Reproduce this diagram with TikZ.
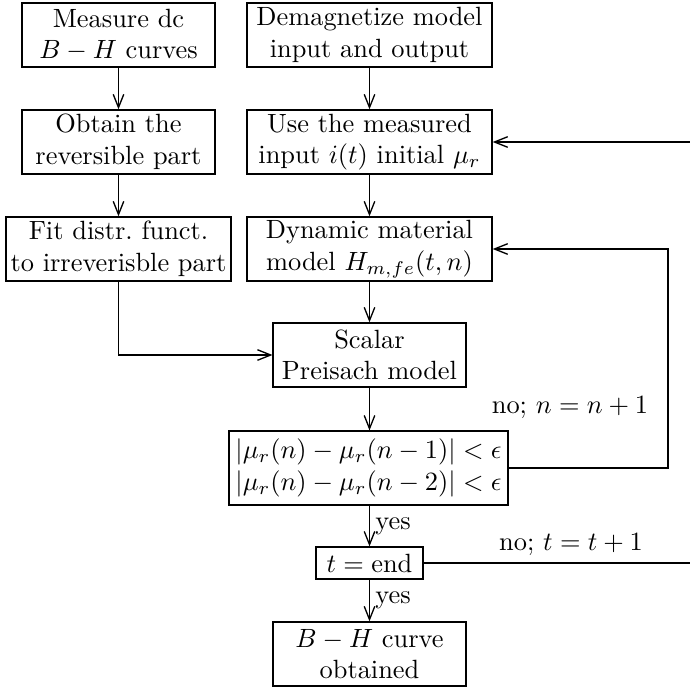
\documentclass[tikz,border=0pt]{standalone}
\usetikzlibrary{arrows.meta}
\begin{document}
\begin{tikzpicture}[x=0.379pt, y=-0.379pt,
  box/.style={draw, line width=0.5pt, align=center, inner sep=1pt},
  arr/.style={line width=0.5pt, -{Straight Barb[length=5pt,width=4pt]}},
  lbl/.style={inner sep=2pt}]
\useasboundingbox (0,0) rectangle (690,687);

% left column
\node[box, minimum width=73.1pt, minimum height=24.3pt] (meas) at (118.5,35) {Measure dc\\$B-H$ curves};
\node[box, minimum width=73.1pt, minimum height=24.3pt] (obt) at (118.5,142) {Obtain the\\reversible part};
\node[box, minimum width=85.3pt, minimum height=24.3pt] (fit) at (118.5,249) {Fit distr.\ funct.\\to irreverisble part};

% right column
\node[box, minimum width=92.9pt, minimum height=24.3pt] (demag) at (369.5,35) {Demagnetize model\\input and output};
\node[box, minimum width=92.9pt, minimum height=24.3pt] (use) at (369.5,142) {Use the measured\\input $i(t)$ initial $\mu_r$};
\node[box, minimum width=92.9pt, minimum height=24.3pt] (dyn) at (369.5,249) {Dynamic material\\model $H_{m,fe}(t,n)$};
\node[box, minimum width=73.1pt, minimum height=24.3pt] (pre) at (369.5,355) {Scalar\\Preisach model};
\node[box, minimum width=105.7pt, minimum height=28pt] (cond) at (368.5,468) {$|\mu_r(n)-\mu_r(n-1)|<\epsilon$\\$|\mu_r(n)-\mu_r(n-2)|<\epsilon$};
\node[box, minimum width=40.6pt, minimum height=12.1pt] (tend) at (369.5,563) {$t=\mathrm{end}$};
\node[box, minimum width=73.1pt, minimum height=24.3pt] (res) at (369.5,654) {$B-H$ curve\\obtained};

% loop corners
\coordinate (nloop) at (668,468);
\coordinate (tloop) at (696,563);

% forward flow
\draw[arr] (meas) -- (obt);
\draw[arr] (obt) -- (fit);
\draw[arr] (fit.south) |- (pre.west);
\draw[arr] (demag) -- (use);
\draw[arr] (use) -- (dyn);
\draw[arr] (dyn) -- (pre);
\draw[arr] (pre) -- (cond.north -| pre.south);
\draw[arr] (cond.south -| tend.north) -- node[right, lbl] (yes1) {yes} (tend);
\draw[arr] (tend) -- node[right, lbl] (yes2) {yes} (res);

% iteration loops
\draw[arr] (cond.east) -- (nloop) |- (dyn.east);
\draw[arr] (tend.east) -- (tloop) |- (use.east);
\node[lbl] (nlab) at (570,408) {no; $n=n+1$};
\node[lbl] (tlab) at (571,545) {no; $t=t+1$};
\end{tikzpicture}
\end{document}
